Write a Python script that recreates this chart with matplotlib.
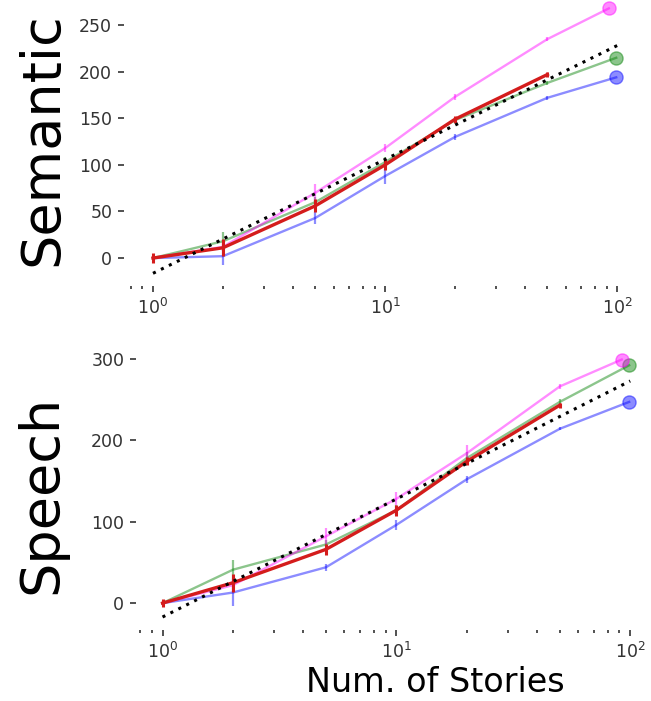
import numpy as np
import matplotlib
matplotlib.use("Agg")
import matplotlib.pyplot as plt

# Number of training stories
stories = [1, 2, 5, 10, 20, 50]
# Full story counts per subject (last point, marked with a circle)
subj_max_stories = [99, 99, 92]
subj_colors = ["blue", "green", "magenta"]

# Semantic panel: per-subject values and error bars
sem_s1 = [0, 2, 43, 88, 130, 172]
sem_s2 = [0, 18, 60, 103, 148, 188]
sem_s3 = [0, 12, 70, 118, 173, 235]
sem_full = [194, 215, 268]
sem_s1_err = [0, 9, 6, 8, 3, 2]
sem_s2_err = [0, 10, 5, 5, 3, 2]
sem_s3_err = [0, 4, 9, 4, 3, 2]
sem_mean = [0, 11, 56, 100, 149, 197]
sem_mean_err = [5, 9, 7, 6, 4, 3]

# Speech panel
sp_s1 = [0, 13, 44, 96, 152, 214]
sp_s2 = [0, 41, 72, 114, 178, 247]
sp_s3 = [0, 22, 82, 128, 184, 266]
sp_full = [247, 292, 299]
sp_s1_err = [0, 17, 4, 6, 4, 2]
sp_s2_err = [0, 12, 5, 6, 8, 3]
sp_s3_err = [0, 8, 10, 8, 10, 3]
sp_mean = [0, 25, 66, 114, 174, 243]
sp_mean_err = [5, 11, 7, 7, 5, 3]

sem_yticks = [0, 50, 100, 150, 200, 250]
sp_yticks = [0, 100, 200, 300]

W, H = 651, 701
fig = plt.figure(figsize=(W / 100, H / 100), dpi=100)


def px_axes(left, top, right, bottom):
    return fig.add_axes([left / W, 1 - bottom / H, (right - left) / W, (bottom - top) / H])


ax_sem = px_axes(124, 0, 625, 286)
ax_sp = px_axes(136, 340, 638, 630)


def draw_panel(ax, subj, subj_err, full, mean, mean_err, yticks, ylim, xlim, ylabel):
    x = np.array(stories, dtype=float)
    for ys, es, yf, nmax, c in zip(subj, subj_err, full, subj_max_stories, subj_colors):
        ax.plot(list(x) + [nmax], list(ys) + [yf], color=c, alpha=0.45, lw=1.7, zorder=2)
        ax.errorbar(x, ys, yerr=es, fmt="none", ecolor=c, alpha=0.45, elinewidth=1.6, zorder=2)
        ax.plot([nmax], [yf], "o", color=c, alpha=0.45, ms=9.5, mec=c, zorder=2)
    ax.errorbar(x, mean, yerr=mean_err, color="#d41c1c", lw=2.4, elinewidth=2.2,
                capsize=0, zorder=3)
    # log-linear fit of the mean curve
    coef = np.polyfit(np.log10(x), mean, 1)
    xf = np.logspace(0, 2, 60)
    ax.plot(xf, np.polyval(coef, np.log10(xf)), ls=(0, (1, 1.9)), color="black", lw=2.2,
            zorder=4)

    ax.set_xscale("log")
    ax.set_xlim(*xlim)
    ax.set_ylim(*ylim)
    ax.set_yticks(yticks)
    for s in ax.spines.values():
        s.set_visible(False)
    ax.tick_params(axis="both", which="major", length=4.5, width=1.2, color="0.2",
                   labelsize=12.5, labelcolor="0.2", pad=4)
    ax.tick_params(axis="x", which="minor", length=2.2, width=1.2, color="0.2")
    ax.set_ylabel(ylabel, fontsize=39, va="center")
    ax.patch.set_alpha(0)


draw_panel(ax_sem, [sem_s1, sem_s2, sem_s3], [sem_s1_err, sem_s2_err, sem_s3_err],
           sem_full, sem_mean, sem_mean_err, sem_yticks, (-30, 277), (0.75, 108), "Semantic")
draw_panel(ax_sp, [sp_s1, sp_s2, sp_s3], [sp_s1_err, sp_s2_err, sp_s3_err],
           sp_full, sp_mean, sp_mean_err, sp_yticks, (-33, 323), (0.77, 108), "Speech")

ax_sem.yaxis.set_label_coords((42 - 124) / 501, 0.515)
ax_sp.yaxis.set_label_coords((41 - 136) / 502, 0.468)
ax_sp.set_xlabel("Num. of Stories", fontsize=24, va="bottom")
ax_sp.xaxis.set_label_coords((435 - 136) / 502, -(699 - 630) / 290)

fig.savefig("out.png", dpi=100, facecolor="white")
